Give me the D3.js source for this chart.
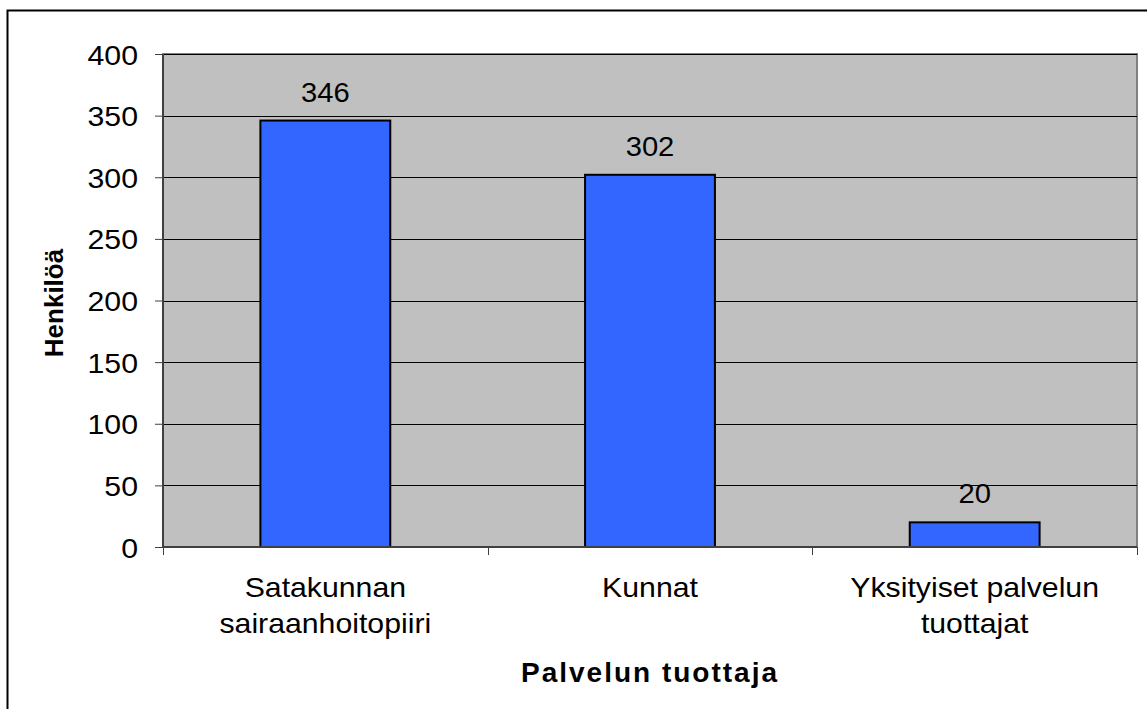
<!DOCTYPE html>
<html>
<head>
<meta charset="utf-8">
<script src="https://cdn.jsdelivr.net/npm/d3@7"></script>
<style>
body { margin: 0; background: #fff; }
text { font-family: "Liberation Sans", Arial, sans-serif; fill: #000; }
</style>
</head>
<body>
<div id="chart"></div>
<script>
// data
var categories = [["Satakunnan", "sairaanhoitopiiri"], ["Kunnat"], ["Yksityiset palvelun", "tuottajat"]];
var values = [346, 302, 20];
var yTicks = [0, 50, 100, 150, 200, 250, 300, 350, 400];

var W = 1147, H = 709;
var margin = {top: 54, right: 10, bottom: 162, left: 163},
width = 1137 - margin.left,
height = 547 - margin.top;
var sx = "scale(1.08,1)"; // the original text is a bit wide

var svg = d3.select("#chart")
.append("svg")
.attr("width", W)
.attr("height", H);

// outer frame
svg.append("rect")
    .attr("x", 7.5).attr("y", 10.5)
    .attr("width", 1150).attr("height", 710)
    .attr("fill", "none")
    .attr("stroke", "#000")
    .attr("stroke-width", 2);

var g = svg.append("g")
.attr("transform", "translate(" + margin.left + "," + margin.top + ")");

var x = d3.scaleBand().domain(d3.range(values.length)).range([0, width]);
var y = d3.scaleLinear().domain([0, 400]).range([height, 0]);

// plot background
g.append("rect")
    .attr("width", width).attr("height", height)
    .attr("fill", "#c0c0c0")
    .attr("stroke", "#808080")
    .attr("stroke-width", 2);

// gridlines
g.selectAll(".grid").data(yTicks.filter(function(d) { return d > 0; }))
    .enter().append("line")
    .attr("x1", 0).attr("x2", width)
    .attr("y1", function(d) { return Math.round(y(d)) + 0.5; })
    .attr("y2", function(d) { return Math.round(y(d)) + 0.5; })
    .attr("stroke", "#000").attr("stroke-width", 1);

// bars
var bw = x.bandwidth() * 0.4;
g.selectAll(".bar").data(values)
    .enter().append("rect")
    .attr("x", function(d, i) { return x(i) + (x.bandwidth() - bw) / 2; })
    .attr("y", function(d) { return y(d); })
    .attr("width", bw)
    .attr("height", function(d) { return height - y(d); })
    .attr("fill", "#3366ff")
    .attr("stroke", "#000")
    .attr("stroke-width", 2);

// value labels
g.selectAll(".val").data(values)
    .enter().append("text")
    .attr("transform", function(d, i) {
        return "translate(" + (x(i) + x.bandwidth() / 2) + "," + (y(d) - 19) + ")" + sx;
    })
    .attr("text-anchor", "middle")
    .style("font-size", "27px")
    .text(function(d) { return d; });

// y axis
var yAxis = d3.axisLeft(y).tickValues(yTicks).tickSize(8).tickPadding(0);
var ya = g.append("g").call(yAxis);
ya.select(".domain").attr("stroke", "#404040").attr("stroke-width", 2).attr("d", "M0,0V" + height);
ya.selectAll("line").attr("stroke", "#404040");
ya.selectAll("text")
    .attr("x", null).attr("dy", "0.36em")
    .attr("transform", "translate(-25,0)" + sx)
    .style("font-size", "28px").style("font-family", "Liberation Sans, Arial, sans-serif").attr("fill", "#000");

// x axis
var xa = g.append("g").attr("transform", "translate(0," + height + ")");
xa.append("line").attr("x1", 0).attr("x2", width).attr("stroke", "#404040").attr("stroke-width", 2);
xa.selectAll(".tk").data(d3.range(values.length + 1))
    .enter().append("line")
    .attr("x1", function(d) { return Math.round(d * x.step()) + 0.5; })
    .attr("x2", function(d) { return Math.round(d * x.step()) + 0.5; })
    .attr("y1", 0).attr("y2", 8)
    .attr("stroke", "#404040");

var cl = xa.selectAll(".cat").data(categories)
    .enter().append("text")
    .attr("text-anchor", "middle")
    .attr("transform", function(d, i) { return "translate(" + (x(i) + x.bandwidth() / 2) + ",50)" + sx; })
    .style("font-size", "28px");
cl.selectAll("tspan").data(function(d) { return d; })
    .enter().append("tspan")
    .attr("x", 0)
    .attr("dy", function(d, i) { return i === 0 ? 0 : 36; })
    .text(function(d) { return d; });

// axis titles
svg.append("text")
    .attr("x", 650).attr("y", 682)
    .attr("text-anchor", "middle")
    .style("font-size", "28px").style("font-weight", "bold").style("letter-spacing", "2px")
    .text("Palvelun tuottaja");

svg.append("text")
    .attr("transform", "translate(63,303) rotate(-90)")
    .attr("text-anchor", "middle")
    .style("font-size", "26px").style("font-weight", "bold")
    .text("Henkilöä");
</script>
</body>
</html>
